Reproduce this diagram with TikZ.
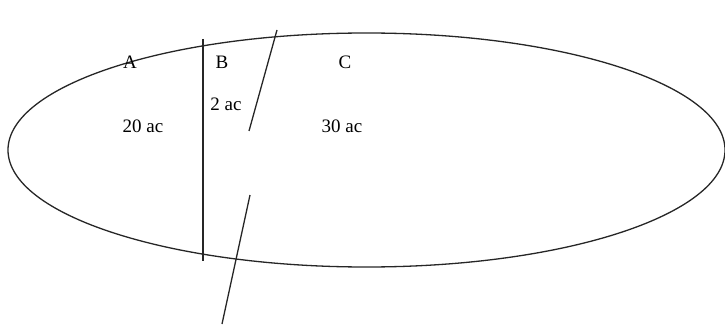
\documentclass[tikz,border=0pt]{standalone}
\usepackage{fontspec}
\setmainfont{Liberation Serif}
\usetikzlibrary{positioning}

\begin{document}
\begin{tikzpicture}[
  x=1pt, y=-1pt,
  lbl/.style={inner sep=0pt, font=\fontsize{19}{22}\selectfont},
  border/.style={line width=1.3pt, black!85}
]
\useasboundingbox (0,0) rectangle (725,326);

% Field outline
\draw[border] (366.5,150) ellipse [x radius=358.5, y radius=117];

% Boundary lines
\coordinate (v1) at (203,39);
\coordinate (v2) at (203,261);
\coordinate (s1) at (277,30);
\coordinate (s2) at (249,131);
\coordinate (t1) at (250,195);
\coordinate (t2) at (222,324);
\draw[border] (v1) -- (v2);
\draw[border] (s1) -- (s2);
\draw[border] (t1) -- (t2);

% Parcel labels
\node[lbl] (pa) at (130,62) {A};
\node[lbl] (pb) at (222,62) {B};
\node[lbl] (pc) at (345,62) {C};
\node[lbl] (aa) at (143,126) {20 ac};
\node[lbl] (ab) at (226,104) {2 ac};
\node[lbl] (ac) at (342,126) {30 ac};

\end{tikzpicture}
\end{document}
